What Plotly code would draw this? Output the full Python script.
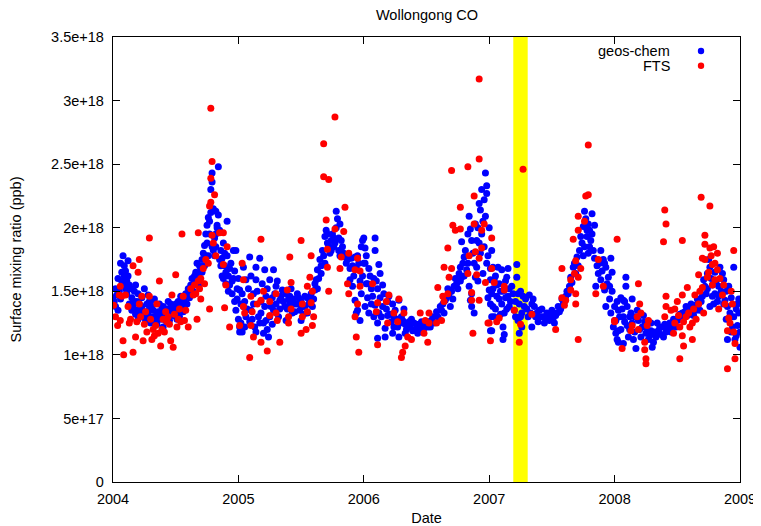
import plotly.graph_objects as go

# Values are in units of 1e18 (as on the y axis); x is decimal year.
geos_chem = [
    (2004.01,1.42),(2004.02,1.38),(2004.03,1.47),(2004.04,1.35),(2004.05,1.50),(2004.06,1.44),(2004.07,1.58),(2004.08,1.78),
    (2004.09,1.70),(2004.09,1.62),(2004.10,1.66),(2004.10,1.52),(2004.11,1.58),(2004.12,1.74),(2004.13,1.55),(2004.14,1.52),
    (2004.15,1.45),(2004.16,1.38),(2004.17,1.50),(2004.18,1.55),(2004.18,1.32),(2004.19,1.42),(2004.20,1.48),(2004.20,1.28),
    (2004.22,1.35),(2004.23,1.45),(2004.24,1.30),(2004.25,1.52),(2004.26,1.27),(2004.27,1.40),(2004.28,1.47),(2004.28,1.33),
    (2004.29,1.42),(2004.30,1.25),(2004.31,1.38),(2004.32,1.30),(2004.33,1.44),(2004.34,1.30),(2004.35,1.24),(2004.36,1.34),
    (2004.37,1.40),(2004.38,1.28),(2004.39,1.36),(2004.40,1.22),(2004.41,1.32),(2004.42,1.27),(2004.43,1.36),(2004.44,1.42),
    (2004.45,1.27),(2004.46,1.40),(2004.47,1.33),(2004.48,1.31),(2004.49,1.38),(2004.50,1.35),(2004.51,1.28),(2004.52,1.42),
    (2004.53,1.30),(2004.54,1.46),(2004.55,1.38),(2004.56,1.34),(2004.57,1.44),(2004.58,1.48),(2004.59,1.40),(2004.60,1.52),
    (2004.61,1.45),(2004.62,1.55),(2004.63,1.60),(2004.64,1.50),(2004.65,1.58),(2004.66,1.65),(2004.67,1.72),(2004.68,1.62),
    (2004.69,1.56),(2004.70,1.68),(2004.71,1.75),(2004.72,1.80),(2004.73,1.70),(2004.73,1.86),(2004.74,1.95),(2004.75,2.02),
    (2004.76,2.08),(2004.76,1.78),(2004.77,2.05),(2004.78,2.12),(2004.78,2.30),(2004.79,2.43),(2004.79,2.36),(2004.80,2.15),
    (2004.80,1.82),(2004.81,1.92),(2004.82,2.13),(2004.82,1.85),(2004.83,2.02),(2004.83,2.00),(2004.84,2.48),(2004.84,2.10),
    (2004.85,1.98),(2004.85,1.75),(2004.86,1.82),(2004.87,1.76),(2004.87,1.62),(2004.88,1.88),(2004.89,1.70),(2004.90,1.65),
    (2004.91,2.05),(2004.91,1.78),(2004.92,1.62),(2004.92,1.50),(2004.93,1.55),(2004.94,1.72),(2004.95,1.48),(2004.96,1.82),
    (2004.96,1.60),(2004.97,1.42),(2004.98,1.35),(2004.98,1.82),(2004.99,1.52),
    (2004.00,1.45),(2004.02,1.52),(2004.04,1.60),(2004.06,1.72),(2004.07,1.65),(2004.08,1.55),(2004.11,1.48),(2004.12,1.62),
    (2004.13,1.40),(2004.15,1.35),(2004.17,1.42),(2004.19,1.35),(2004.21,1.40),(2004.21,1.32),(2004.23,1.38),(2004.25,1.34),
    (2004.27,1.30),(2004.29,1.36),(2004.30,1.42),(2004.32,1.35),(2004.33,1.26),(2004.35,1.32),(2004.37,1.29),(2004.39,1.31),
    (2004.40,1.38),(2004.42,1.34),(2004.44,1.30),(2004.46,1.35),(2004.48,1.38),(2004.50,1.40),(2004.51,1.33),(2004.53,1.37),
    (2004.55,1.42),(2004.57,1.38),(2004.59,1.46),(2004.61,1.50),(2004.63,1.54),(2004.65,1.62),(2004.67,1.60),(2004.69,1.70),
    (2004.71,1.65),(2004.74,1.78),(2004.75,1.88),(2004.77,1.95),(2004.79,1.85),(2004.81,1.78),(2004.82,1.95),(2004.86,1.70),
    (2004.88,1.60),(2004.89,1.80),(2004.90,1.56),(2004.93,1.68),(2004.95,1.58),(2004.97,1.66),(2004.99,1.44),
    (2005.00,1.28),(2005.01,1.22),(2005.01,1.51),(2005.01,1.18),(2005.02,1.40),(2005.02,1.25),(2005.03,1.18),(2005.04,1.69),
    (2005.04,1.38),(2005.06,1.59),(2005.06,1.30),(2005.09,1.77),(2005.09,1.26),(2005.10,1.35),(2005.12,1.48),(2005.14,1.69),
    (2005.14,1.59),(2005.14,1.18),(2005.17,1.76),(2005.17,1.25),(2005.18,1.33),(2005.20,1.17),(2005.21,1.67),(2005.22,1.46),
    (2005.22,1.27),(2005.24,1.14),(2005.25,1.59),(2005.26,1.38),(2005.28,1.67),(2005.29,1.48),(2005.30,1.54),(2005.32,1.30),
    (2005.33,1.43),(2005.35,1.51),(2005.37,1.38),(2005.38,1.27),(2005.40,1.44),(2005.41,1.46),(2005.43,1.33),(2005.45,1.40),
    (2005.47,1.48),(2005.49,1.35),(2005.50,1.27),(2005.51,1.38),(2005.53,1.46),(2005.55,1.33),(2005.57,1.43),(2005.59,1.38),
    (2005.61,1.51),(2005.62,1.59),(2005.63,1.67),(2005.65,1.75),(2005.66,1.64),(2005.67,1.82),(2005.69,1.93),(2005.70,1.98),
    (2005.71,1.88),(2005.73,1.80),(2005.74,1.90),(2005.75,1.95),(2005.76,1.85),(2005.78,2.13),(2005.78,2.00),(2005.79,2.07),
    (2005.80,1.92),(2005.81,2.03),(2005.82,1.90),(2005.83,1.85),(2005.85,1.77),(2005.87,1.75),(2005.89,1.68),(2005.89,1.59),
    (2005.90,1.76),(2005.91,1.54),(2005.93,1.77),(2005.93,1.43),(2005.94,1.69),(2005.94,1.33),(2005.95,1.78),(2005.95,1.35),
    (2005.97,1.27),(2005.98,1.85),(2005.98,1.48),(2005.99,1.90),
    (2005.00,1.60),(2005.03,1.48),(2005.05,1.42),(2005.05,1.22),(2005.07,1.36),(2005.08,1.52),(2005.10,1.62),(2005.11,1.28),
    (2005.12,1.40),(2005.13,1.22),(2005.15,1.50),(2005.16,1.30),(2005.18,1.42),(2005.19,1.56),(2005.20,1.25),(2005.21,1.38),
    (2005.23,1.52),(2005.23,1.20),(2005.25,1.30),(2005.27,1.45),(2005.27,1.24),(2005.28,1.35),(2005.30,1.40),(2005.31,1.58),
    (2005.33,1.36),(2005.34,1.46),(2005.36,1.42),(2005.38,1.48),(2005.39,1.36),(2005.41,1.40),(2005.42,1.52),(2005.44,1.44),
    (2005.45,1.34),(2005.47,1.40),(2005.48,1.45),(2005.50,1.42),(2005.52,1.32),(2005.53,1.38),(2005.55,1.45),(2005.56,1.40),
    (2005.58,1.48),(2005.60,1.44),(2005.61,1.56),(2005.63,1.52),(2005.64,1.60),(2005.66,1.70),(2005.68,1.78),(2005.69,1.72),
    (2005.71,1.95),(2005.72,1.85),(2005.74,1.82),(2005.76,1.92),(2005.77,1.88),(2005.80,1.82),(2005.81,1.78),(2005.84,1.80),
    (2005.86,1.72),(2005.88,1.78),(2005.91,1.70),(2005.92,1.62),(2005.96,1.72),(2005.97,1.58),(2005.99,1.62),
    (2006.00,1.92),(2006.00,1.72),(2006.01,1.84),(2006.01,1.72),(2006.01,1.38),(2006.02,1.56),(2006.03,1.56),(2006.04,1.68),
    (2006.04,1.33),(2006.07,1.46),(2006.08,1.60),(2006.09,1.92),(2006.09,1.82),(2006.09,1.39),(2006.11,1.52),(2006.11,1.25),
    (2006.11,1.13),(2006.12,1.71),(2006.12,1.33),(2006.13,1.64),(2006.15,1.38),(2006.16,1.48),(2006.17,1.21),(2006.17,1.14),
    (2006.19,1.31),(2006.20,1.46),(2006.23,1.40),(2006.23,1.17),(2006.24,1.22),(2006.25,1.35),(2006.28,1.43),(2006.28,1.14),
    (2006.31,1.27),(2006.32,1.36),(2006.33,1.17),(2006.36,1.26),(2006.39,1.19),(2006.40,1.25),(2006.43,1.17),(2006.45,1.22),
    (2006.47,1.18),(2006.51,1.22),(2006.52,1.26),(2006.54,1.27),(2006.59,1.30),(2006.62,1.35),(2006.65,1.43),(2006.68,1.48),
    (2006.69,1.38),(2006.72,1.54),(2006.74,1.56),(2006.76,1.64),(2006.77,1.69),(2006.78,1.61),(2006.78,1.89),(2006.80,1.77),
    (2006.82,1.67),(2006.84,1.54),(2006.84,2.09),(2006.85,1.43),(2006.85,1.99),(2006.86,1.38),(2006.86,1.90),(2006.86,1.48),
    (2006.88,1.33),(2006.89,2.03),(2006.89,1.61),(2006.90,1.90),(2006.90,1.69),(2006.92,2.19),(2006.93,2.14),(2006.93,1.80),
    (2006.94,2.30),(2006.94,1.95),(2006.96,2.22),(2006.96,1.85),(2006.97,2.43),(2006.97,2.09),(2006.98,2.33),(2006.98,2.27),
    (2006.98,1.72),
    (2006.02,1.78),(2006.03,1.45),(2006.05,1.62),(2006.06,1.52),(2006.06,1.40),(2006.08,1.30),(2006.10,1.58),(2006.13,1.45),
    (2006.14,1.30),(2006.15,1.55),(2006.18,1.36),(2006.19,1.42),(2006.21,1.32),(2006.22,1.26),(2006.24,1.30),(2006.26,1.28),
    (2006.27,1.22),(2006.29,1.25),(2006.30,1.30),(2006.33,1.24),(2006.34,1.20),(2006.37,1.22),(2006.38,1.28),(2006.41,1.20),
    (2006.42,1.24),(2006.44,1.20),(2006.46,1.26),(2006.48,1.21),(2006.49,1.24),(2006.53,1.22),(2006.55,1.30),(2006.56,1.25),
    (2006.58,1.34),(2006.60,1.28),(2006.61,1.38),(2006.63,1.40),(2006.64,1.33),(2006.66,1.45),(2006.67,1.52),(2006.70,1.50),
    (2006.71,1.44),(2006.73,1.60),(2006.75,1.52),(2006.77,1.58),(2006.79,1.72),(2006.80,1.62),(2006.81,1.82),(2006.83,1.72),
    (2006.83,1.95),(2006.87,1.80),(2006.88,1.72),(2006.91,2.00),(2006.91,1.58),(2006.92,1.88),(2006.95,2.05),(2006.95,1.64),
    (2006.99,1.78),(2006.99,1.45),
    (2007.00,2.00),(2007.00,1.51),(2007.01,1.59),(2007.01,1.40),(2007.01,1.19),(2007.02,1.82),(2007.02,1.30),(2007.02,1.48),
    (2007.02,1.19),(2007.03,1.69),(2007.03,1.38),(2007.04,1.59),(2007.04,1.30),(2007.06,1.46),(2007.07,1.69),(2007.08,1.56),
    (2007.10,1.67),(2007.10,1.40),(2007.11,1.50),(2007.11,1.22),(2007.11,1.12),(2007.12,1.33),(2007.12,1.16),(2007.14,1.61),
    (2007.15,1.68),(2007.15,1.46),(2007.16,1.38),(2007.18,1.54),(2007.20,1.35),(2007.22,1.71),(2007.22,1.61),(2007.23,1.48),
    (2007.23,1.27),(2007.24,1.40),(2007.24,1.17),(2007.26,1.33),(2007.26,1.22),(2007.27,1.46),(2007.30,1.36),(2007.32,1.47),
    (2007.34,1.40),(2007.34,1.22),(2007.36,1.38),(2007.38,1.33),(2007.39,1.26),(2007.40,1.35),(2007.43,1.30),(2007.44,1.25),
    (2007.46,1.33),(2007.48,1.27),(2007.51,1.29),(2007.52,1.25),(2007.54,1.33),(2007.56,1.34),(2007.59,1.40),(2007.61,1.46),
    (2007.64,1.54),(2007.65,1.61),(2007.67,1.69),(2007.69,1.64),(2007.70,1.77),(2007.72,1.82),(2007.73,1.93),(2007.75,2.01),
    (2007.76,2.13),(2007.76,1.85),(2007.77,2.07),(2007.78,1.93),(2007.79,2.03),(2007.79,1.80),(2007.80,1.98),(2007.81,1.90),
    (2007.82,2.11),(2007.83,1.82),(2007.84,2.02),(2007.84,1.76),(2007.85,1.54),(2007.87,1.64),(2007.89,1.82),(2007.89,1.59),
    (2007.91,1.75),(2007.92,1.51),(2007.93,1.69),(2007.93,1.38),(2007.95,1.61),(2007.96,1.54),(2007.97,1.76),(2007.97,1.33),
    (2007.98,1.65),(2007.99,1.22),
    (2007.01,1.68),(2007.03,1.52),(2007.05,1.62),(2007.05,1.36),(2007.06,1.55),(2007.08,1.44),(2007.09,1.50),(2007.09,1.32),
    (2007.13,1.45),(2007.13,1.58),(2007.14,1.36),(2007.16,1.52),(2007.17,1.42),(2007.19,1.48),(2007.21,1.42),(2007.21,1.30),
    (2007.25,1.50),(2007.25,1.30),(2007.28,1.38),(2007.29,1.44),(2007.31,1.30),(2007.33,1.33),(2007.35,1.44),(2007.37,1.30),
    (2007.41,1.30),(2007.42,1.36),(2007.45,1.29),(2007.47,1.31),(2007.49,1.32),(2007.50,1.35),(2007.53,1.31),(2007.55,1.38),
    (2007.57,1.36),(2007.58,1.44),(2007.60,1.42),(2007.62,1.50),(2007.63,1.48),(2007.66,1.57),(2007.68,1.72),(2007.71,1.70),
    (2007.74,1.88),(2007.75,1.78),(2007.78,1.98),(2007.80,1.85),(2007.82,1.95),(2007.86,1.70),(2007.88,1.72),(2007.90,1.66),
    (2007.92,1.72),(2007.94,1.56),(2007.96,1.44),(2007.98,1.50),
    (2008.00,1.27),(2008.01,1.17),(2008.01,1.27),(2008.02,1.42),(2008.02,1.12),(2008.03,1.10),(2008.03,1.35),(2008.03,1.19),
    (2008.07,1.43),(2008.07,1.30),(2008.07,1.09),(2008.09,1.61),(2008.09,1.54),(2008.10,1.38),(2008.10,1.23),(2008.11,1.14),
    (2008.13,1.33),(2008.14,1.44),(2008.15,1.12),(2008.17,1.05),(2008.18,1.35),(2008.19,1.27),(2008.22,1.22),(2008.23,1.31),
    (2008.25,1.17),(2008.27,1.12),(2008.29,1.19),(2008.30,1.06),(2008.31,1.10),(2008.33,1.14),(2008.34,1.25),(2008.35,1.19),
    (2008.38,1.22),(2008.39,1.14),(2008.41,1.18),(2008.43,1.19),(2008.46,1.22),(2008.48,1.26),(2008.51,1.30),(2008.54,1.33),
    (2008.56,1.34),(2008.59,1.35),(2008.62,1.36),(2008.63,1.31),(2008.64,1.39),(2008.67,1.40),(2008.68,1.35),(2008.70,1.46),
    (2008.71,1.59),(2008.72,1.54),(2008.74,1.64),(2008.75,1.75),(2008.76,1.69),(2008.76,1.38),(2008.78,1.46),(2008.79,1.40),
    (2008.80,1.48),(2008.80,1.65),(2008.83,1.54),(2008.83,1.46),(2008.84,1.69),(2008.86,1.64),(2008.87,1.59),(2008.88,1.43),
    (2008.90,1.38),(2008.90,1.12),(2008.91,1.54),(2008.92,1.33),(2008.94,1.22),(2008.95,1.69),(2008.96,1.12),(2008.98,1.40),
    (2008.98,1.23),(2008.99,1.33),(2009.00,1.06),
    (2008.00,1.38),(2008.04,1.30),(2008.05,1.45),(2008.05,1.20),(2008.06,1.36),(2008.08,1.26),(2008.08,1.42),(2008.12,1.30),
    (2008.12,1.20),(2008.14,1.25),(2008.16,1.18),(2008.16,1.30),(2008.20,1.20),(2008.21,1.14),(2008.24,1.26),(2008.26,1.20),
    (2008.28,1.15),(2008.29,1.25),(2008.32,1.18),(2008.36,1.22),(2008.37,1.16),(2008.40,1.24),(2008.42,1.22),(2008.44,1.25),
    (2008.45,1.18),(2008.47,1.28),(2008.49,1.22),(2008.50,1.27),(2008.52,1.32),(2008.53,1.28),(2008.55,1.30),(2008.57,1.38),
    (2008.58,1.31),(2008.60,1.32),(2008.61,1.40),(2008.65,1.35),(2008.66,1.44),(2008.69,1.42),(2008.73,1.48),(2008.74,1.52),
    (2008.77,1.60),(2008.78,1.55),(2008.81,1.58),(2008.82,1.42),(2008.85,1.50),(2008.87,1.40),(2008.89,1.50),(2008.89,1.28),
    (2008.93,1.45),(2008.93,1.18),(2008.95,1.30),(2008.97,1.36),(2008.97,1.15),(2008.99,1.44),(2009.00,1.18),
]

fts = [
    (2004.005,1.39),(2004.037,1.23),(2004.058,1.54),(2004.058,1.27),(2004.07,1.46),(2004.08,1.11),(2004.085,1.00),(2004.10,1.47),
    (2004.14,1.28),(2004.16,1.02),(2004.16,1.70),(2004.18,1.14),(2004.19,1.26),(2004.20,1.65),(2004.21,1.40),(2004.21,1.75),
    (2004.23,1.46),(2004.24,1.11),(2004.26,1.34),(2004.29,1.46),(2004.29,1.92),(2004.30,1.28),(2004.31,1.12),(2004.35,1.40),
    (2004.37,1.58),(2004.38,1.07),(2004.41,1.18),(2004.42,1.34),(2004.43,1.26),(2004.46,1.11),(2004.47,1.47),(2004.48,1.06),
    (2004.50,1.63),(2004.51,1.22),(2004.53,1.36),(2004.55,1.95),(2004.56,1.46),(2004.57,1.27),(2004.60,1.22),(2004.62,1.52),
    (2004.64,1.47),(2004.65,1.55),(2004.67,1.28),(2004.68,1.96),(2004.68,1.58),(2004.70,1.60),(2004.70,1.44),(2004.72,1.68),
    (2004.74,1.75),(2004.76,1.72),(2004.77,1.36),(2004.77,2.17),(2004.78,2.94),(2004.78,2.39),(2004.78,2.20),(2004.79,2.52),
    (2004.79,1.94),(2004.80,1.88),(2004.81,2.26),(2004.82,1.78),(2004.85,1.96),(2004.88,1.96),(2004.88,1.71),(2004.89,1.37),
    (2004.90,1.55),(2004.91,1.85),(2004.93,1.22),
    (2004.02,1.30),(2004.05,1.47),(2004.12,1.38),(2004.13,1.25),(2004.22,1.30),(2004.25,1.24),(2004.27,1.18),(2004.32,1.20),
    (2004.33,1.15),(2004.34,1.23),(2004.36,1.17),(2004.39,1.20),(2004.40,1.28),(2004.44,1.30),(2004.45,1.24),(2004.49,1.32),
    (2004.52,1.28),(2004.54,1.26),(2004.58,1.35),(2004.66,1.48),(2004.69,1.52),(2004.73,1.56),
    (2005.01,1.23),(2005.03,1.72),(2005.04,1.59),(2005.04,1.38),(2005.05,1.33),(2005.09,0.98),(2005.10,1.46),(2005.10,1.23),
    (2005.11,1.34),(2005.12,1.14),(2005.15,1.40),(2005.18,1.91),(2005.18,1.43),(2005.18,1.10),(2005.20,1.50),(2005.23,1.03),
    (2005.25,1.42),(2005.25,1.31),(2005.30,1.48),(2005.30,1.33),(2005.31,1.27),(2005.33,1.10),(2005.39,1.51),(2005.40,1.30),
    (2005.40,1.25),(2005.41,1.77),(2005.42,1.57),(2005.42,1.36),(2005.50,1.90),(2005.50,1.17),(2005.51,1.40),(2005.51,1.30),
    (2005.54,1.20),(2005.55,1.54),(2005.55,1.34),(2005.57,1.61),(2005.58,1.78),(2005.58,1.41),(2005.59,1.50),(2005.59,1.23),
    (2005.60,1.30),(2005.68,2.66),(2005.68,2.40),(2005.70,2.06),(2005.71,1.83),(2005.71,1.69),(2005.72,2.38),(2005.72,1.50),
    (2005.77,2.87),(2005.77,1.99),(2005.81,1.68),(2005.82,1.77),(2005.84,1.97),(2005.85,2.16),(2005.87,1.56),(2005.88,1.80),
    (2005.88,1.48),(2005.93,1.67),(2005.93,1.30),(2005.94,1.14),(2005.95,1.76),(2005.95,1.40),(2005.96,1.02),(2005.97,1.66),
    (2005.97,1.54),
    (2006.07,1.56),(2006.10,1.34),(2006.11,1.41),(2006.11,1.08),(2006.18,1.42),(2006.19,1.25),(2006.20,1.47),(2006.24,1.33),
    (2006.27,1.26),(2006.28,1.44),(2006.30,0.98),(2006.31,1.02),(2006.32,1.33),(2006.33,1.07),(2006.35,1.14),(2006.38,1.12),
    (2006.45,1.33),(2006.48,1.17),(2006.49,1.27),(2006.51,1.10),(2006.52,1.33),(2006.52,1.25),(2006.58,1.25),(2006.59,1.53),
    (2006.62,1.27),(2006.63,1.46),(2006.64,1.69),(2006.64,1.42),(2006.67,1.84),(2006.67,1.48),(2006.68,1.61),(2006.70,1.68),
    (2006.70,2.45),(2006.71,2.02),(2006.73,1.98),(2006.77,2.16),(2006.77,1.99),(2006.83,2.48),(2006.83,1.64),(2006.84,1.78),
    (2006.86,1.49),(2006.86,1.43),(2006.87,1.17),(2006.88,2.25),(2006.88,2.03),(2006.89,1.81),(2006.90,1.63),(2006.92,3.17),
    (2006.92,2.54),(2006.92,1.76),(2006.92,1.43),(2006.94,1.98),(2006.94,1.84),(2006.96,2.03),(2006.97,1.57),(2006.99,1.25),
    (2007.00,1.25),(2007.01,1.11),(2007.02,1.68),(2007.02,1.92),(2007.04,1.57),(2007.06,1.26),(2007.08,1.29),(2007.12,1.54),
    (2007.12,1.51),(2007.20,1.35),(2007.24,1.10),(2007.25,1.24),(2007.27,2.46),(2007.34,1.32),(2007.53,1.20),(2007.58,1.68),
    (2007.58,1.45),(2007.60,1.39),(2007.61,1.43),(2007.65,1.59),(2007.65,1.51),(2007.67,1.91),(2007.68,1.64),(2007.69,1.74),
    (2007.69,1.48),(2007.69,1.40),(2007.71,2.09),(2007.71,1.98),(2007.71,1.61),(2007.71,1.12),(2007.73,1.68),(2007.76,2.05),
    (2007.77,2.25),(2007.79,2.26),(2007.79,2.65),(2007.85,1.48),(2007.87,1.75),(2007.91,1.54),(2008.00,1.26),
    (2008.00,1.27),(2008.02,1.91),(2008.06,1.05),(2008.13,1.19),(2008.14,1.23),(2008.18,1.30),(2008.19,1.56),(2008.19,1.20),
    (2008.20,1.40),(2008.21,1.33),(2008.24,1.10),(2008.24,1.04),(2008.25,0.97),(2008.25,0.93),(2008.26,1.23),(2008.27,1.27),
    (2008.39,1.89),(2008.40,2.14),(2008.41,2.03),(2008.40,1.30),(2008.41,1.46),(2008.41,1.38),(2008.47,1.17),(2008.48,1.36),
    (2008.48,1.25),(2008.50,1.42),(2008.51,1.31),(2008.52,0.97),(2008.54,1.90),(2008.54,1.47),(2008.54,1.15),(2008.55,1.26),
    (2008.55,1.07),(2008.58,1.53),(2008.59,1.33),(2008.60,1.22),(2008.62,1.25),(2008.62,1.12),(2008.63,1.36),(2008.64,1.47),
    (2008.67,1.63),(2008.67,1.40),(2008.69,2.24),(2008.70,1.76),(2008.70,1.53),(2008.71,1.33),(2008.72,1.94),(2008.72,1.87),
    (2008.72,1.75),(2008.74,1.61),(2008.76,2.17),(2008.76,1.84),(2008.78,1.71),(2008.78,1.55),(2008.79,1.85),(2008.80,1.59),
    (2008.82,1.80),(2008.82,1.67),(2008.83,1.36),(2008.86,1.47),(2008.88,1.40),(2008.90,1.19),(2008.90,0.89),(2008.91,1.29),
    (2008.93,1.50),(2008.95,1.82),(2008.95,1.18),(2008.96,1.09),(2008.96,0.97),
    (2008.45,1.35),(2008.52,1.22),(2008.57,1.30),(2008.65,1.28),(2008.68,1.50),(2008.75,1.65),(2008.77,1.78),(2008.80,1.72),
    (2008.84,1.60),(2008.87,1.55),(2008.92,1.25),(2008.94,1.40),
]

UNIT = 1e18
geos_year = [p[0] for p in geos_chem]
geos_val = [p[1] * UNIT for p in geos_chem]
fts_year = [p[0] for p in fts]
fts_val = [p[1] * UNIT for p in fts]

band_start, band_end = 2007.192, 2007.307

year_ticks = [2004, 2005, 2006, 2007, 2008, 2009]
y_tickvals = [0, 5e17, 1e18, 1.5e18, 2e18, 2.5e18, 3e18, 3.5e18]
y_ticktext = ["0", "5e+17", "1e+18", "1.5e+18", "2e+18", "2.5e+18", "3e+18", "3.5e+18"]

FONT = "Liberation Sans, Arial, sans-serif"
FS = 14.5
# The page body has an 8px default margin, so the figure is drawn 8px in from the window edge.
OFF = 8
W, H = 761 - OFF, 526 - OFF
PW, PH = 627.3, 444.7

fig = go.Figure()
fig.add_trace(go.Scatter(x=geos_year, y=geos_val, mode="markers", name="geos-chem",
                         marker=dict(color="#0000ff", size=7, line=dict(width=0)), showlegend=False))
fig.add_trace(go.Scatter(x=fts_year, y=fts_val, mode="markers", name="FTS",
                         marker=dict(color="#ff0000", size=7, line=dict(width=0)), showlegend=False))

fig.add_shape(type="rect", xref="x", yref="paper", x0=band_start, x1=band_end, y0=0, y1=1,
              fillcolor="#ffff00", line=dict(width=0), layer="below")

# gnuplot-style legend: text right-aligned, marker to the right
for label, color, py in [("geos-chem", "#0000ff", (481.7 - 51) / PH), ("FTS", "#ff0000", (481.7 - 65.7) / PH)]:
    fig.add_annotation(xref="paper", yref="paper", x=(670 - 112.7) / PW, y=py, text=label, showarrow=False,
                       xanchor="right", yanchor="middle", xshift=2,
                       font=dict(family=FONT, size=FS, color="#000"))
    cx = (701 - 112.7) / PW
    fig.add_shape(type="circle", xref="paper", yref="paper",
                  x0=cx - 3.2 / PW, x1=cx + 3.2 / PW, y0=py - 3.2 / PH, y1=py + 3.2 / PH,
                  fillcolor=color, line=dict(width=0))

axis_common = dict(ticks="inside", ticklen=7, tickcolor="#000", tickwidth=1.2, showline=True,
                   linecolor="#000", linewidth=1.3, mirror="ticks", showgrid=False, zeroline=False,
                   automargin=False)

fig.update_layout(
    width=W, height=H,
    margin=dict(l=112.7 - OFF, r=21, t=37 - OFF, b=44.3, pad=0),
    paper_bgcolor="white", plot_bgcolor="white",
    font=dict(family=FONT, size=FS, color="#000"),
    title=dict(text="Wollongong CO", x=(427 - OFF) / W, xanchor="center", xref="container",
               yref="container", y=1 - (15 - OFF) / H, yanchor="middle",
               font=dict(family=FONT, size=FS)),
    xaxis=dict(range=[2004, 2009], tickvals=year_ticks, ticktext=[str(t) for t in year_ticks],
               ticklabelstandoff=3,
               title=dict(text="Date", standoff=7, font=dict(family=FONT, size=FS)), **axis_common),
    yaxis=dict(range=[0, 3.5e18], tickvals=y_tickvals, ticktext=y_ticktext,
               ticklabelstandoff=5,
               title=dict(text="Surface mixing ratio (ppb)", standoff=27, font=dict(family=FONT, size=FS)),
               **axis_common),
)

fig.write_html("out.html")
